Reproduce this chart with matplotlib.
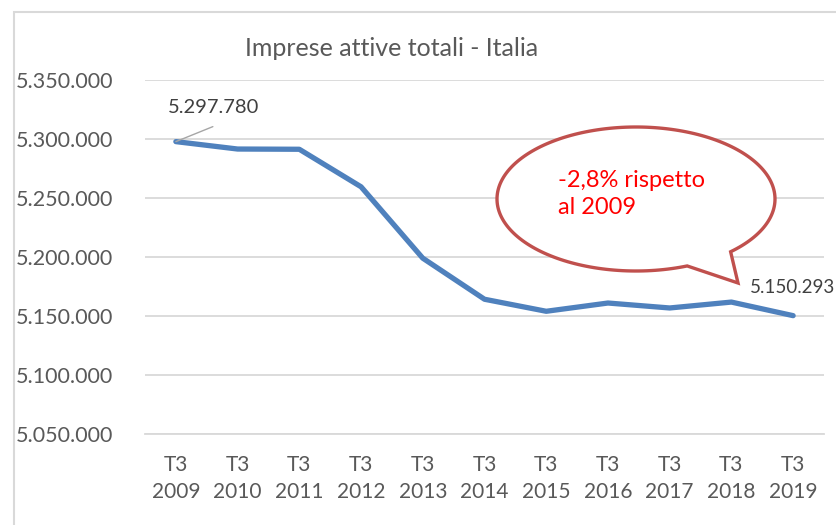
import numpy as np
import matplotlib
matplotlib.use("Agg")
import matplotlib.pyplot as plt
from matplotlib.patches import Polygon, Rectangle

categories = ["T3\n2009", "T3\n2010", "T3\n2011", "T3\n2012", "T3\n2013", "T3\n2014",
              "T3\n2015", "T3\n2016", "T3\n2017", "T3\n2018", "T3\n2019"]
values = [5297780, 5291500, 5291300, 5259500, 5199000, 5164200,
          5154000, 5161000, 5156800, 5161800, 5150293]
yticks = [5050000, 5100000, 5150000, 5200000, 5250000, 5300000, 5350000]
title = "Imprese attive totali - Italia"
callout = "-2,8% rispetto\nal 2009"

def fmt(v):
    return f"{v:,}".replace(",", ".")

W, H = 836, 525
plt.rcParams['font.family'] = ['Lato', 'DejaVu Sans']
fig = plt.figure(figsize=(W / 100, H / 100), dpi=100)
fig.patch.set_facecolor("white")

def fx(x):
    return x / W
def fy(y):
    return 1 - y / H

ax = fig.add_axes([fx(145), fy(434), fx(824) - fx(145), fy(80) - fy(434)])
x = np.arange(len(values))
ax.plot(x, values, color="#4F81BD", lw=3.8, solid_capstyle="round", solid_joinstyle="round", zorder=3)
ax.set_xlim(-0.5, len(values) - 0.5)
ax.set_ylim(yticks[0], yticks[-1])
ax.set_yticks(yticks)
ax.set_yticklabels([fmt(t) for t in yticks])
ax.set_xticks(x)
ax.set_xticklabels(categories, linespacing=1.45)
ax.grid(axis="y", color="#D9D9D9", lw=1.3, zorder=0)
ax.set_axisbelow(True)
for s in ["top", "right", "left"]:
    ax.spines[s].set_visible(False)
ax.spines["bottom"].set_color("#D9D9D9")
ax.spines["bottom"].set_linewidth(1.3)
ax.tick_params(axis="y", length=0, pad=23, labelsize=15.5, labelcolor="#595959")
ax.tick_params(axis="x", length=0, pad=15, labelsize=15, labelcolor="#595959")

# data labels
ax.annotate(fmt(values[0]), xy=(0, values[0]), xytext=(-8, 34), textcoords="offset pixels",
            ha="left", va="center", fontsize=14.5, color="#404040", annotation_clip=False)
ax.annotate("", xy=(0, values[0]), xytext=(37, 15), textcoords="offset pixels",
            arrowprops=dict(arrowstyle="-", color="#A6A6A6", lw=1.0, shrinkA=0, shrinkB=0))
ax.annotate(fmt(values[-1]), xy=(len(values) - 1, values[-1]), xytext=(-43, 28),
            textcoords="offset pixels", ha="left", va="center", fontsize=13.5,
            color="#404040", annotation_clip=False)

# title
fig.text(fx(392), fy(48), title, ha="center", va="center", fontsize=18, color="#595959")

# chart border
fig.patches.append(Rectangle((fx(14), fy(H + 20)), 2, fy(12) - fy(H + 20),
                             transform=fig.transFigure, fill=False, ec="#D9D9D9", lw=1.5))

# speech bubble
cx, cy, a, b = 636, 199, 139, 72
t1, t2 = np.deg2rad(47.1), np.deg2rad(68.4)
ts = np.linspace(t2, t1 + 2 * np.pi, 200)
pts = [(fx(cx + a * np.cos(t)), fy(cy + b * np.sin(t))) for t in ts]
pts.append((fx(738), fy(283)))
bubble = Polygon(pts, closed=True, transform=fig.transFigure, facecolor="white",
                 edgecolor="#C0504D", lw=2.4, zorder=5, clip_on=False, joinstyle="miter")
ax.add_patch(bubble)
fig.text(fx(558), fy(194), callout, ha="left", va="center", fontsize=17, color="#FF0000",
         linespacing=1.4, zorder=6)

fig.savefig("out.png", dpi=100)
